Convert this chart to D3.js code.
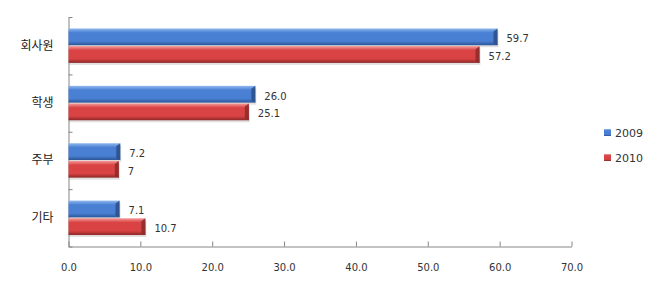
<!DOCTYPE html>
<html>
<head>
<meta charset="utf-8">
<script src="https://cdn.jsdelivr.net/npm/d3@7"></script>
<style>
  body { margin: 0; background: #fff; }
  .num { font-family: "DejaVu Sans", Verdana, sans-serif; font-size: 10px; fill: #333; }
  .cat { font-family: "Noto Sans CJK KR", sans-serif; font-size: 12px; fill: #222; }
</style>
</head>
<body>
<div class="chart"></div>
<script>
// data
var categories = ["회사원", "학생", "주부", "기타"];
var seriesNames = ["2009", "2010"];
var values2009 = [59.7, 26.0, 7.2, 7.1];
var values2010 = [57.2, 25.1, 7, 10.7];
var labels2009 = ["59.7", "26.0", "7.2", "7.1"];
var labels2010 = ["57.2", "25.1", "7", "10.7"];
var xTicks = [0, 10, 20, 30, 40, 50, 60, 70];

var svgWidth = 657;
var svgHeight = 290;

var plot = { left: 68.5, right: 571.5, top: 17, bottom: 246.5 };

var svg = d3.select(".chart")
  .append("svg")
  .attr("width", svgWidth)
  .attr("height", svgHeight);

var rows = categories.map(function(c, i) {
  return {
    cat: c,
    bars: [
      { s: 0, v: values2009[i], label: labels2009[i] },
      { s: 1, v: values2010[i], label: labels2010[i] }
    ]
  };
});

// gradients for the bevelled bar look
var defs = svg.append("defs");
var colors = [
  { top: "#8fb8ee", mid: "#4a80d4", bot: "#2b5596", cap: "#2a4f86" },
  { top: "#f59a9a", mid: "#d94343", bot: "#8e2727", cap: "#8a2a2a" }
];
colors.forEach(function(c, i) {
  var g = defs.append("linearGradient")
    .attr("id", "grad" + i)
    .attr("x1", 0).attr("y1", 0).attr("x2", 0).attr("y2", 1);
  g.append("stop").attr("offset", "0%").attr("stop-color", c.top);
  g.append("stop").attr("offset", "25%").attr("stop-color", c.mid);
  g.append("stop").attr("offset", "75%").attr("stop-color", c.mid);
  g.append("stop").attr("offset", "100%").attr("stop-color", c.bot);
});

var x = d3.scaleLinear()
  .domain([0, 70])
  .range([plot.left, plot.right]);

var y = d3.scaleBand()
  .domain(categories)
  .range([plot.top, plot.bottom])
  .paddingInner(0.4)
  .paddingOuter(0.2);

var ySub = d3.scaleBand()
  .domain([0, 1])
  .range([0, y.bandwidth()])
  .paddingInner(0.05);

// x axis
var xAxis = svg.append("g")
  .attr("transform", `translate(0, ${plot.bottom})`)
  .call(d3.axisBottom(x).tickValues(xTicks)
    .tickFormat(d3.format(".1f"))
    .tickSizeInner(-5).tickSizeOuter(0).tickPadding(17));
xAxis.select(".domain").attr("stroke", "#868686");
xAxis.selectAll(".tick line").attr("stroke", "#868686");
xAxis.selectAll("text").attr("class", "num").attr("font-family", null).attr("font-size", null);

// y axis boundary ticks
var yLin = d3.scaleLinear().domain([0, 4]).range([plot.top, plot.bottom]);
var yAxis = svg.append("g")
  .attr("transform", `translate(${plot.left}, 0)`)
  .call(d3.axisRight(yLin).ticks(4).tickFormat("").tickSizeInner(4).tickSizeOuter(0));
yAxis.select(".domain").attr("stroke", "#868686");
yAxis.selectAll(".tick line").attr("stroke", "#868686");

// category labels
var yLab = svg.append("g")
  .attr("transform", `translate(${plot.left}, 0)`)
  .call(d3.axisLeft(y).tickSize(0).tickPadding(15));
yLab.select(".domain").remove();
yLab.selectAll("text").attr("class", "cat").attr("font-family", null).attr("font-size", null);

// bars
var groups = svg.selectAll(".row")
  .data(rows)
  .enter()
  .append("g")
  .attr("class", "row")
  .attr("transform", d => `translate(0, ${y(d.cat)})`);

var bars = groups.selectAll(".bar")
  .data(d => d.bars)
  .enter()
  .append("g")
  .attr("class", "bar");

// soft shadow below
bars.append("rect")
  .attr("x", x(0) + 1)
  .attr("y", d => ySub(d.s) + 2)
  .attr("width", d => x(d.v) - x(0))
  .attr("height", ySub.bandwidth())
  .attr("fill", "#000")
  .attr("opacity", 0.12);

bars.append("rect")
  .attr("x", x(0))
  .attr("y", d => ySub(d.s))
  .attr("width", d => x(d.v) - x(0))
  .attr("height", ySub.bandwidth())
  .attr("fill", d => `url(#grad${d.s})`);

// bevel on the right end
bars.append("path")
  .attr("d", function(d) {
    var x1 = x(d.v), y0 = ySub(d.s), h = ySub.bandwidth();
    return `M${x1 - 4},${y0 + 3} L${x1},${y0} L${x1},${y0 + h} L${x1 - 4},${y0 + h - 2} Z`;
  })
  .attr("fill", d => colors[d.s].cap)
  .attr("opacity", 0.85);

// value labels
bars.append("text")
  .attr("class", "num")
  .attr("x", d => x(d.v) + 9)
  .attr("y", d => ySub(d.s) + ySub.bandwidth() / 2 + 2)
  .attr("dy", "0.35em")
  .text(d => d.label);

// legend
var legend = svg.selectAll(".legend")
  .data(seriesNames)
  .enter()
  .append("g")
  .attr("class", "legend")
  .attr("transform", (d, i) => `translate(604, ${133 + i * 25})`);

legend.append("rect")
  .attr("x", 0).attr("y", -4)
  .attr("width", 7).attr("height", 7)
  .attr("fill", (d, i) => `url(#grad${i})`);

legend.append("text")
  .attr("class", "num")
  .attr("x", 11)
  .attr("y", 0)
  .attr("dy", "0.35em")
  .style("font-size", "11px")
  .text(d => d);
</script>
</body>
</html>
